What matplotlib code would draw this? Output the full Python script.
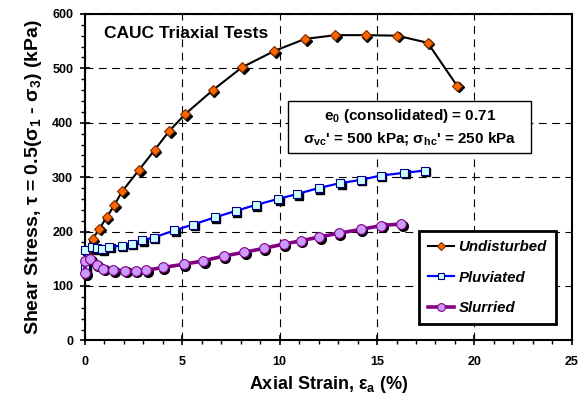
import matplotlib.pyplot as plt
import matplotlib.transforms as mtransforms
from matplotlib.patches import Rectangle
from matplotlib.ticker import MultipleLocator

plt.rcParams['font.family'] = ['Liberation Sans', 'DejaVu Sans']
plt.rcParams['font.weight'] = 'bold'
plt.rcParams['mathtext.fontset'] = 'custom'
plt.rcParams['mathtext.bf'] = 'Liberation Sans:bold'
plt.rcParams['mathtext.rm'] = 'Liberation Sans:bold'

# --- data ---
und_strain = [0.05, 0.39, 0.73, 1.11, 1.5, 1.91, 2.77, 3.58, 4.33, 5.15, 6.57,
              8.07, 9.73, 11.3, 12.85, 14.42, 16.04, 17.6, 19.11]
und_stress = [163, 186, 205, 226, 248, 274, 313, 350, 385, 416, 460,
              502, 532, 554, 561, 561, 560, 547, 468]

plu_strain = [0.0, 0.0, 0.34, 0.61, 0.9, 1.24, 1.88, 2.39, 2.93, 3.52, 4.59, 5.55,
              6.66, 7.75, 8.77, 9.92, 10.9, 12.0, 13.1, 14.17, 15.19, 16.4, 17.44]
plu_stress = [131, 167, 172, 170, 168, 172, 174, 178, 184, 189, 202, 213,
              226, 238, 249, 260, 269, 280, 289, 295, 303, 308, 312]

slu_strain = [0.0, 0.0, 0.26, 0.6, 0.94, 1.45, 2.06, 2.61, 3.16, 4.0, 5.08, 6.06,
              7.12, 8.18, 9.17, 10.2, 11.08, 12.03, 13.03, 14.17, 15.2, 16.25]
slu_stress = [124, 146, 149, 139, 132, 129, 128, 128, 129, 134, 140, 146,
              155, 162, 169, 177, 183, 190, 197, 204, 211, 214]

fig = plt.figure(figsize=(5.84, 3.98), dpi=100)
ax = fig.add_axes([0.1455, 0.1447, 0.979 - 0.1455, 0.965 - 0.1447])

# black drop shadow behind each marker
shadow = mtransforms.offset_copy(ax.transData, fig=fig, x=1.6, y=-1.6, units='dots')

series = [
    (und_strain, und_stress, 'Undisturbed', 'black', 1.5, 'D', 5.5, '#FF6600', '#7a2e00'),
    (plu_strain, plu_stress, 'Pluviated', '#0000FF', 1.6, 's', 5.5, '#CCFFFF', '#000080'),
    (slu_strain, slu_stress, 'Slurried', '#800080', 2.6, 'o', 7.0, '#CC99FF', '#800080'),
]

for xs, ys, lab, lc, lw, mk, ms, fc, ec in series:
    ax.plot(xs, ys, linestyle='none', marker=mk, markersize=ms, color='black',
            transform=shadow, zorder=2, clip_on=False)
    ax.plot(xs, ys, color=lc, linewidth=lw, marker=mk, markersize=ms,
            markerfacecolor=fc, markeredgecolor=ec, markeredgewidth=0.8,
            label=lab, zorder=3, clip_on=False)

ax.set_xlim(0, 25)
ax.set_ylim(0, 600)
ax.xaxis.set_major_locator(MultipleLocator(5))
ax.xaxis.set_minor_locator(MultipleLocator(1))
ax.yaxis.set_major_locator(MultipleLocator(100))
ax.yaxis.set_minor_locator(MultipleLocator(20))
ax.tick_params(which='major', direction='inout', length=7, width=1.2, labelsize=9)
ax.tick_params(which='minor', direction='out', length=3, width=1.0)
ax.tick_params(axis='x', pad=8)
ax.tick_params(axis='y', pad=5)
for sp in ax.spines.values():
    sp.set_linewidth(1.5)

ax.grid(True, which='major', color='black', linestyle=(0, (7, 5)), linewidth=0.8)
ax.set_axisbelow(True)

ax.set_xlabel(r'Axial Strain, $\mathbf{\epsilon_a}$ (%)', fontsize=13, fontweight='bold', labelpad=4)
ax.set_ylabel(r'Shear Stress, $\mathbf{\tau}$ = 0.5($\mathbf{\sigma_1}$ - $\mathbf{\sigma_3}$) (kPa)',
              fontsize=14, fontweight='bold', labelpad=6)

ax.text(0.04, 0.94, 'CAUC Triaxial Tests', transform=ax.transAxes, fontsize=12.5,
        fontweight='bold', va='center', ha='left')

# note box with consolidation conditions
ax.add_patch(Rectangle((0.418, 0.574), 0.498, 0.159, transform=ax.transAxes,
                       facecolor='white', edgecolor='black', linewidth=1.0, zorder=4))
ax.text(0.667, 0.654, "e$_\\mathbf{0}$ (consolidated) = 0.71\n"
        "$\\mathbf{\\sigma_{vc}}$' = 500 kPa; $\\mathbf{\\sigma_{hc}}$' = 250 kPa",
        transform=ax.transAxes, fontsize=11, fontweight='bold', ha='center', va='center',
        linespacing=1.35, zorder=5)

leg = ax.legend(loc='lower right', bbox_to_anchor=(0.967, 0.05), borderaxespad=0,
                fancybox=False, edgecolor='black', framealpha=1, markerscale=0.8,
                handlelength=1.7, labelspacing=1.1, borderpad=0.6, handletextpad=0.3,
                prop={'weight': 'bold', 'style': 'italic', 'size': 10.8})
leg.get_frame().set_linewidth(2.0)

fig.savefig('out.png', dpi=100)
